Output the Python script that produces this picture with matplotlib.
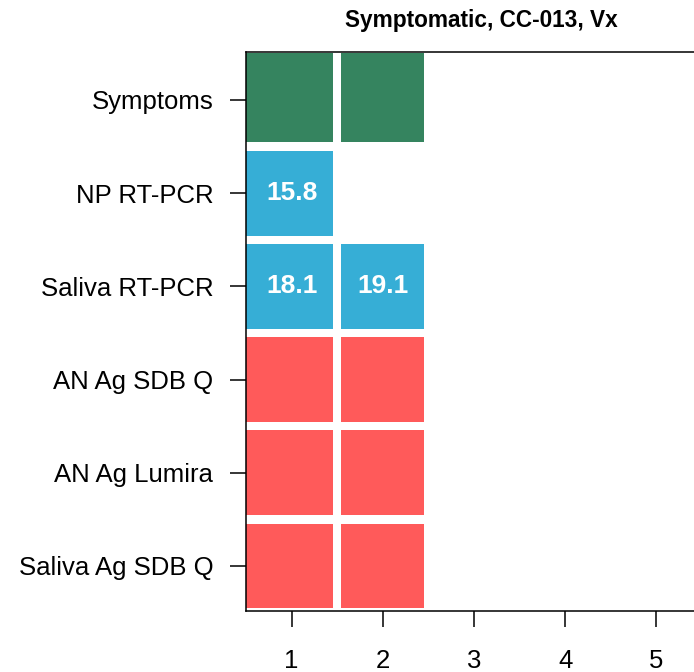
import matplotlib
matplotlib.use("Agg")
import matplotlib.pyplot as plt
from matplotlib.patches import Rectangle

plt.rcParams['font.family'] = ['Liberation Sans', 'DejaVu Sans']

title = "Symptomatic, CC-013, Vx"
rows = ["Symptoms", "NP RT-PCR", "Saliva RT-PCR", "AN Ag SDB Q", "AN Ag Lumira", "Saliva Ag SDB Q"]
row_colors = ["#35845F", "#36AED6", "#36AED6", "#FF5A5A", "#FF5A5A", "#FF5A5A"]
days = [1, 2, 3, 4, 5]
# cell present (True) and optional Ct label, per row, per day
present = [
    [True, True],
    [True, False],
    [True, True],
    [True, True],
    [True, True],
    [True, True],
]
labels = [
    [None, None],
    ["15.8", None],
    ["18.1", "19.1"],
    [None, None],
    [None, None],
    [None, None],
]

W, H = 694, 672
fig = plt.figure(figsize=(W / 100, H / 100), dpi=100)
ax = fig.add_axes([246 / W, 61 / H, 456 / W, 559 / H])

gx = 0.046
gy = 0.045
for r, (name, col) in enumerate(zip(rows, row_colors), start=1):
    for c, (p, lab) in enumerate(zip(present[r - 1], labels[r - 1]), start=1):
        if not p:
            continue
        x0 = c - 0.5 + (gx if c > 1 else 0)
        x1 = c + 0.5 - gx
        y0 = r - 0.5 + (gy if r > 1 else 0)
        y1 = r + 0.5 - gy
        ax.add_patch(Rectangle((x0, y0), x1 - x0, y1 - y0, facecolor=col, edgecolor='none'))
        if lab is not None:
            ax.text(c, r, lab, ha='center', va='center', color='white',
                    fontsize=19, fontweight='bold')

ax.set_xlim(0.5, 5.5)
ax.set_ylim(6.483, 0.485)
ax.set_xticks(days)
ax.set_xticklabels([str(d) for d in days])
ax.set_yticks(range(1, len(rows) + 1))
ax.set_yticklabels(rows)
ax.tick_params(axis='both', length=11.5, width=1.1, labelsize=18.5, color='black')
ax.tick_params(axis='y', pad=12)
ax.tick_params(axis='x', pad=16)
for s in ax.spines.values():
    s.set_linewidth(1.1)

fig.text(481 / W, 1 - 21 / H, title, ha='center', va='center',
         fontsize=16.3, fontweight='bold')

fig.savefig("out.png", dpi=100)
